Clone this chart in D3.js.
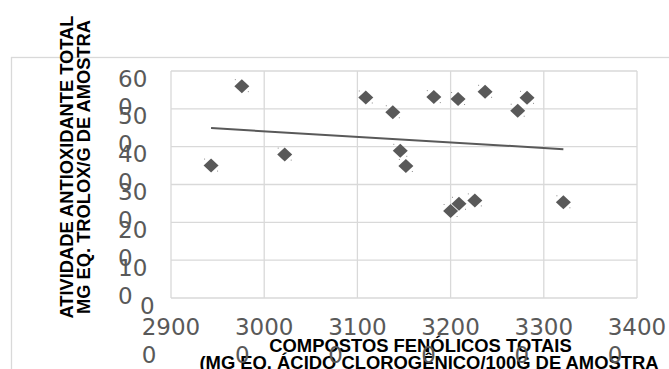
<!DOCTYPE html>
<html>
<head>
<meta charset="utf-8">
<script src="https://cdn.jsdelivr.net/npm/d3@7"></script>
<style>
body { margin: 0; background: #fff; }
</style>
</head>
<body>
<div id="vis"></div>
<script>
// valores
var fenolicos = [2943, 2976, 3022, 3109, 3138, 3146, 3152, 3182, 3208, 3237, 3282, 3272, 3200, 3209, 3226, 3321];
var antioxidante = [350, 560, 379, 530, 491, 389, 349, 531, 526, 545, 529, 495, 230, 249, 258, 253];

var xTicks = [2900, 3000, 3100, 3200, 3300, 3400];
var xTickLabels = [['2900', '0'], ['3000', '0'], ['3100', '0'], ['3200', '0'], ['3300', '0'], ['3400', '0']];
var yTicks = [600, 500, 400, 300, 200, 100, 0];
var yTickLabels = [['60', '0'], ['50', '0'], ['40', '0'], ['30', '0'], ['20', '0'], ['10', '0'], ['0']];

var yTitle = ['ATIVIDADE ANTIOXIDANTE TOTAL', 'MG EQ. TROLOX/G DE AMOSTRA'];
var xTitle = ['COMPOSTOS FENÓLICOS TOTAIS', '(MG EQ. ÁCIDO CLOROGÊNICO/100G DE AMOSTRA'];

var width = 669, height = 369;
var plot = {left: 171, right: 637, top: 71, bottom: 298};
var grey = '#595959', gridColor = '#d9d9d9';
var labelFont = '"DejaVu Sans", sans-serif';
var titleFont = '"Liberation Sans", Arial, sans-serif';

var x = d3.scaleLinear()
    .domain([2900, 3400])
    .range([plot.left, plot.right]);

var y = d3.scaleLinear()
    .domain([0, 600])
    .range([plot.bottom, plot.top]);

var svg = d3.select('#vis').append('svg')
    .attr('width', width)
    .attr('height', height);

// borda da área do gráfico
svg.append('rect')
    .attr('x', 11.5).attr('y', 57.5)
    .attr('width', 700).attr('height', 400)
    .attr('fill', 'none')
    .attr('stroke', gridColor)
    .attr('stroke-width', 1.3);

// títulos dos eixos
svg.selectAll('.ytitle')
    .data(yTitle)
    .enter()
    .append('text')
        .attr('transform', (d, i) => 'translate(' + (73 + i * 17) + ',167) rotate(-90)')
        .attr('text-anchor', 'middle')
        .attr('font-family', titleFont)
        .attr('font-weight', 'bold')
        .attr('font-size', 18.3)
        .attr('fill', '#000')
        .text(d => d);

svg.selectAll('.xtitle')
    .data(xTitle)
    .enter()
    .append('text')
        .attr('x', (d, i) => i ? 429 : 420.5)
        .attr('y', (d, i) => 351.5 + i * 17.5)
        .attr('text-anchor', 'middle')
        .attr('font-family', titleFont)
        .attr('font-weight', 'bold')
        .attr('font-size', 18.4)
        .attr('fill', '#000')
        .text(d => d);

// grade
var grid = svg.append('g')
    .attr('stroke', gridColor)
    .attr('stroke-width', 1.3)
    .attr('fill', 'none');

grid.selectAll('.vx')
    .data(xTicks)
    .enter()
    .append('line')
        .attr('x1', d => x(d)).attr('x2', d => x(d))
        .attr('y1', plot.top).attr('y2', plot.bottom);

grid.selectAll('.hy')
    .data(yTicks)
    .enter()
    .append('line')
        .attr('x1', plot.left).attr('x2', plot.right)
        .attr('y1', d => y(d)).attr('y2', d => y(d));

// rótulos do eixo Y (quebrados em duas linhas)
var yl = svg.append('g')
    .attr('font-family', labelFont)
    .attr('font-size', 23)
    .attr('fill', grey);

yTicks.forEach(function(v, i) {
    var lines = yTickLabels[i];
    lines.forEach(function(s, j) {
        yl.append('text')
            .attr('x', lines.length > 1 ? 118 : 140)
            .attr('y', y(v) + 15.5 + j * 28)
            .text(s);
    });
});

// rótulos do eixo X
var xl = svg.append('g')
    .attr('font-family', labelFont)
    .attr('font-size', 23)
    .attr('fill', grey);

xTicks.forEach(function(v, i) {
    var lines = xTickLabels[i];
    var first = xl.append('text')
        .attr('x', x(v))
        .attr('y', plot.bottom + 37)
        .attr('text-anchor', 'middle')
        .text(lines[0]);
    var w = first.node().getComputedTextLength();
    xl.append('text')
        .attr('x', x(v) - w / 2)
        .attr('y', plot.bottom + 64.5)
        .text(lines[1]);
});

// linha de tendência (mínimos quadrados)
var mx = d3.mean(fenolicos), my = d3.mean(antioxidante);
var sxy = d3.sum(fenolicos, (v, i) => (v - mx) * (antioxidante[i] - my));
var sxx = d3.sum(fenolicos, v => (v - mx) * (v - mx));
var slope = sxy / sxx, icpt = my - slope * mx;
var ext = d3.extent(fenolicos);

// pontos
var pts = fenolicos.map((v, i) => ({x: v, y: antioxidante[i]}));

var marks = svg.append('g');
marks.selectAll('path')
    .data(pts)
    .enter()
    .append('path')
        .attr('transform', d => 'translate(' + x(d.x) + ',' + y(d.y) + ')')
        .attr('d', 'M0,-7L7.5,0L0,7L-7.5,0Z')
        .attr('fill', grey);

marks.selectAll('.speck')
    .data(pts.flatMap(d => [[d, -7, -7], [d, 6, 5]]))
    .enter()
    .append('rect')
        .attr('x', d => x(d[0].x) + d[1])
        .attr('y', d => y(d[0].y) + d[2])
        .attr('width', 1).attr('height', 1)
        .attr('fill', '#8c8c8c');

svg.append('line')
    .attr('x1', x(ext[0])).attr('y1', y(slope * ext[0] + icpt))
    .attr('x2', x(ext[1])).attr('y2', y(slope * ext[1] + icpt))
    .attr('stroke', grey)
    .attr('stroke-width', 2);
</script>
</body>
</html>
